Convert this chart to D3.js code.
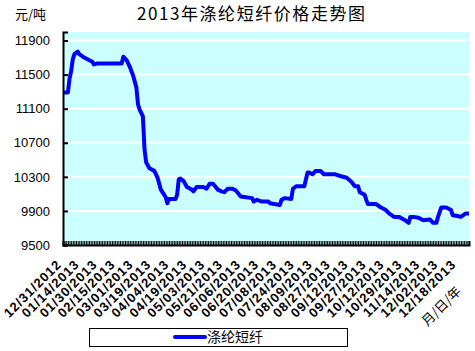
<!DOCTYPE html>
<html>
<head>
<meta charset="utf-8">
<script src="https://cdn.jsdelivr.net/npm/d3@7"></script>
<style>
  body { margin: 0; background: #fff; }
  text { font-family: "Liberation Sans", Arial, sans-serif; }
  .cjk { font-family: "Noto Sans CJK SC", sans-serif; }
</style>
</head>
<body>
<div id="chart-container"></div>
<script>
let width = 475,
    height = 351;

// number of daily points on the category axis
let pointCount = 250;
let labelEvery = 11;

let dateLabels = ["12/31/2012", "01/14/2013", "01/30/2013", "02/15/2013", "03/01/2013",
  "03/19/2013", "04/04/2013", "04/19/2013", "05/03/2013", "05/21/2013", "06/06/2013",
  "06/20/2013", "07/08/2013", "07/24/2013", "08/09/2013", "08/27/2013", "09/12/2013",
  "09/27/2013", "10/12/2013", "10/29/2013", "11/14/2013", "12/02/2013", "12/18/2013"];

// point index along the axis, and price read at that point (元/吨)
let pointIndex = [0, 3, 4, 5, 6, 7, 9, 10, 13, 15, 18, 19, 21, 36, 37, 39, 41, 43, 45, 46,
  47, 49, 50, 51, 53, 56, 58, 60, 61, 63, 64, 65, 69, 70, 71, 72, 74, 76, 79, 80,
  82, 86, 88, 90, 92, 95, 97, 99, 101, 104, 106, 109, 116, 117, 119, 122, 126, 127, 133, 134,
  136, 140, 141, 143, 148, 150, 151, 153, 155, 158, 160, 167, 170, 174, 177, 179, 181, 182, 185, 186,
  187, 192, 195, 198, 200, 203, 206, 209, 212, 213, 215, 218, 221, 225, 227, 229, 230, 232, 235, 238,
  239, 242, 244, 247, 249];
let price = [11290, 11290, 11450, 11540, 11680, 11740, 11770, 11740, 11700, 11680, 11650, 11620, 11630, 11630, 11710, 11670, 11590, 11490, 11350, 11150,
  11090, 11010, 10620, 10470, 10400, 10370, 10290, 10150, 10120, 10060, 9990, 10040, 10040, 10090, 10270, 10280, 10250, 10180, 10150, 10130,
  10180, 10180, 10160, 10220, 10220, 10150, 10130, 10120, 10160, 10160, 10140, 10070, 10050, 10010, 10030, 10010, 10010, 9990, 9970, 10030,
  10050, 10040, 10160, 10190, 10190, 10350, 10350, 10330, 10370, 10370, 10330, 10330, 10310, 10290, 10240, 10190, 10190, 10120, 10090, 10030,
  9980, 9980, 9940, 9910, 9870, 9830, 9830, 9800, 9760, 9830, 9830, 9820, 9790, 9800, 9760, 9760, 9830, 9940, 9940, 9910,
  9850, 9840, 9830, 9870, 9870];

let yTicks = [9500, 9900, 10300, 10700, 11100, 11500, 11900];

let data = pointIndex.map((d, i) => ({ i: d, v: price[i] }));

let svg = d3.select("#chart-container")
            .append("svg")
            .attr("width", width)
            .attr("height", height);

// ----- SCALES -----
let xScale = d3.scaleLinear()
    .domain([0, pointCount - 1])
    .range([63, 469]);

let yScale = d3.scaleLinear()
    .domain([9500, 12000])
    .range([245, 32]);

// plot background
svg.append("rect")
    .attr("x", 63)
    .attr("y", 32)
    .attr("width", 406)
    .attr("height", 213)
    .attr("fill", "#ccffff");

// gridlines
svg.append("g")
    .selectAll("line")
    .data(yTicks.filter(d => d > 9500))
    .join("line")
    .attr("x1", 63)
    .attr("x2", 469)
    .attr("y1", d => yScale(d))
    .attr("y2", d => yScale(d))
    .attr("stroke", "#fff")
    .attr("stroke-width", 2);

// ----- LINE -----
let line = d3.line()
    .x(d => xScale(d.i))
    .y(d => yScale(d.v));

svg.append("path")
    .datum(data)
    .attr("d", line)
    .attr("stroke", "#0000ff")
    .attr("stroke-width", 4)
    .attr("stroke-linejoin", "round")
    .attr("fill", "none");

// ----- AXES -----
let yAxis = svg.append("g")
    .attr("transform", "translate(63,0)")
    .call(d3.axisLeft(yScale).tickValues(yTicks).tickSize(-5).tickPadding(13).tickFormat(d3.format("d")));
yAxis.select(".domain").attr("stroke", "#000").attr("stroke-width", 2);
yAxis.selectAll(".tick line").attr("stroke", "#000").attr("stroke-width", 2);
yAxis.selectAll("text").style("font-size", "13px").attr("fill", "#000");

let xAxis = svg.append("g")
    .attr("transform", "translate(0,245)")
    .call(d3.axisBottom(xScale).tickValues(d3.range(pointCount)).tickSize(-4).tickFormat(""));
xAxis.select(".domain").attr("stroke", "#000").attr("stroke-width", 2);
xAxis.selectAll(".tick line").attr("stroke", "#000").attr("stroke-width", 1);

// date labels
svg.append("g")
    .selectAll("text")
    .data(dateLabels)
    .join("text")
    .attr("transform", (d, i) => `translate(${xScale(i * labelEvery) - 4},262) rotate(-45)`)
    .attr("text-anchor", "end")
    .attr("dy", "0.35em")
    .style("font-size", "13px")
    .style("font-weight", "bold")
    .style("letter-spacing", "1px")
    .text(d => d);

// ----- TEXTS -----
svg.append("text")
    .attr("class", "cjk")
    .attr("x", 137)
    .attr("y", 20)
    .attr("textLength", 228)
    .attr("lengthAdjust", "spacing")
    .style("font-size", "17px")
    .text("2013年涤纶短纤价格走势图");

svg.append("text")
    .attr("class", "cjk")
    .attr("x", 15)
    .attr("y", 19)
    .style("font-size", "13px")
    .text("元/吨");

svg.append("text")
    .attr("class", "cjk")
    .attr("transform", "translate(462,292) rotate(-45)")
    .attr("text-anchor", "end")
    .style("font-size", "13px")
    .text("月/日/年");

// ----- LEGEND -----
let legend = svg.append("g");
legend.append("rect")
    .attr("x", 89.5)
    .attr("y", 328.5)
    .attr("width", 258)
    .attr("height", 18)
    .attr("fill", "#fff")
    .attr("stroke", "#000");
legend.append("line")
    .attr("x1", 175)
    .attr("x2", 205)
    .attr("y1", 337)
    .attr("y2", 337)
    .attr("stroke", "#0000ff")
    .attr("stroke-width", 4)
    .attr("stroke-linecap", "round");
legend.append("text")
    .attr("class", "cjk")
    .attr("x", 207)
    .attr("y", 342)
    .style("font-size", "14px")
    .text("涤纶短纤");
</script>
</body>
</html>
